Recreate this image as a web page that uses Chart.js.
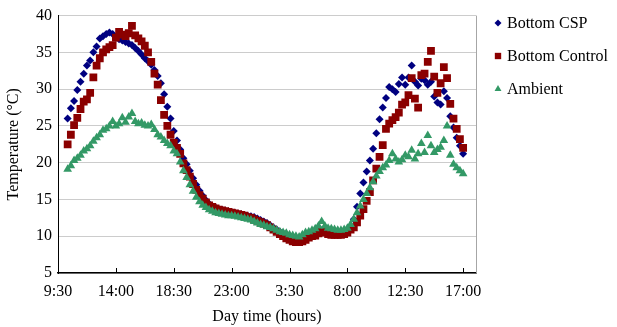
<!DOCTYPE html>
<html>
<head>
<meta charset="utf-8">
<script src="https://cdn.jsdelivr.net/npm/chart.js@4/dist/chart.umd.min.js"></script>
<style>
  body { margin: 0; background: #fff; }
  #wrap { width: 617px; height: 327px; }
</style>
</head>
<body>
<div id="wrap"><canvas id="chart" width="617" height="327"></canvas></div>
<script>
// ============================================
// Data (hours counted from 9:30 on day one)
// ============================================
const hours = [0.75,
    1, 1.25, 1.5, 1.75, 2, 2.25, 2.5, 2.75,
    3, 3.25, 3.5, 3.75, 4, 4.25, 4.5, 4.75,
    5, 5.25, 5.5, 5.75, 6, 6.25, 6.5, 6.75,
    7, 7.25, 7.5, 7.75, 8, 8.25, 8.5, 8.75,
    9, 9.25, 9.5, 9.75, 10, 10.25, 10.5, 10.75,
    11, 11.25, 11.5, 11.75, 12, 12.25, 12.5, 12.75,
    13, 13.25, 13.5, 13.75, 14, 14.25, 14.5, 14.75,
    15, 15.25, 15.5, 15.75, 16, 16.25, 16.5, 16.75,
    17, 17.25, 17.5, 17.75, 18, 18.25, 18.5, 18.75,
    19, 19.25, 19.5, 19.75, 20, 20.25, 20.5, 20.75,
    21, 21.25, 21.5, 21.75, 22, 22.25, 22.5, 22.75,
    23, 23.25, 23.5, 23.75, 24, 24.25, 24.5, 24.75,
    25, 25.25, 25.5, 25.75, 26, 26.25, 26.5, 26.75,
    27, 27.25, 27.5, 27.75, 28, 28.25, 28.5, 28.75,
    29, 29.25, 29.5, 29.75, 30, 30.25, 30.5, 30.75,
    31, 31.25, 31.5];

const bottomCSP = [26.0,
    27.4, 28.4, 29.9, 31.0, 32.1, 33.2, 33.9, 35.0,
    35.8, 36.9, 37.2, 37.5, 37.7, 37.5, 37.0, 36.8,
    36.6, 36.4, 36.2, 36.0, 35.6, 35.2, 34.7, 34.2,
    33.8, 33.3, 32.6, 31.8, 30.8, 29.3, 27.6, 26.0,
    24.3, 23.0, 21.8, 20.6, 19.8, 18.9, 17.9, 17.0,
    16.2, 15.5, 14.9, 14.4, 14.1, 13.9, 13.7, 13.6,
    13.5, 13.4, 13.3, 13.2, 13.1, 13.0, 12.9, 12.8,
    12.7, 12.6, 12.4, 12.2, 12.0, 11.8, 11.5, 11.2,
    10.9, 10.6, 10.4, 10.2, 10.0, 9.8, 9.7, 9.7,
    9.8, 10.0, 10.2, 10.4, 10.5, 10.6, 10.8, 10.7,
    10.6, 10.6, 10.5, 10.5, 10.5, 10.5, 10.6, 11.0,
    12.3, 14.0, 15.8, 17.3, 18.8, 20.3, 21.9, 24.0,
    25.9, 27.5, 28.8, 30.3, 30.0, 29.6, 30.7, 31.6,
    30.6, 31.6, 33.2, 31.0, 30.5, 31.4, 31.2, 30.6,
    31.0, 29.0, 28.2, 27.9, 29.7, 28.8, 26.3, 24.8,
    23.4, 22.3, 21.2];

const bottomControl = [22.5,
    23.8, 25.1, 26.1, 27.3, 28.3, 28.6, 29.5, 31.6,
    33.2, 34.2, 35.0, 35.4, 35.7, 36.0, 37.0, 37.8,
    37.4, 37.2, 37.6, 38.6, 37.3, 36.9, 36.5, 35.9,
    35.0, 33.7, 32.1, 30.6, 28.5, 26.5, 25.0, 23.8,
    22.7, 22.0, 21.2, 19.9, 19.0, 18.1, 17.1, 16.3,
    15.6, 15.1, 14.6, 14.2, 14.0, 13.8, 13.6, 13.5,
    13.4, 13.3, 13.2, 13.1, 13.0, 12.9, 12.8, 12.6,
    12.5, 12.3, 12.1, 11.9, 11.7, 11.5, 11.2, 10.9,
    10.6, 10.3, 10.0, 9.7, 9.5, 9.3, 9.2, 9.2,
    9.3, 9.5, 9.8, 10.0, 10.1, 10.4, 10.6, 10.5,
    10.3, 10.2, 10.2, 10.2, 10.2, 10.3, 10.5, 10.9,
    11.2, 11.9, 12.8, 13.7, 14.8, 16.0, 17.6, 19.2,
    20.8, 22.4, 24.6, 25.3, 25.8, 26.2, 26.8, 27.9,
    28.2, 29.2, 31.5, 28.7, 27.5, 31.9, 32.1, 33.7,
    35.2, 31.7, 29.5, 30.8, 33.0, 31.5, 28.0, 26.0,
    24.6, 23.2, 22.0];

const ambient = [19.1,
    19.6, 20.3, 20.6, 21.0, 21.6, 21.9, 22.3, 22.9,
    23.4, 23.8, 24.4, 24.6, 25.0, 25.6, 25.0, 25.3,
    26.1, 25.5, 26.2, 26.7, 25.6, 25.3, 25.4, 25.1,
    25.0, 25.2, 24.5, 23.8, 23.5, 23.0, 22.6, 22.3,
    21.6, 21.2, 20.1, 18.9, 18.0, 17.0, 16.1, 15.3,
    14.7, 14.2, 13.9, 13.6, 13.4, 13.2, 13.1, 13.0,
    12.9, 12.8, 12.8, 12.7, 12.6, 12.5, 12.4, 12.3,
    12.2, 12.0, 11.8, 11.6, 11.5, 11.3, 11.2, 11.0,
    10.8, 10.6, 10.5, 10.4, 10.2, 10.1, 10.0, 9.9,
    10.2, 10.5, 10.6, 10.8, 11.0, 11.4, 12.0, 11.4,
    11.1, 11.0, 10.9, 10.8, 10.8, 10.9, 11.1, 11.6,
    12.3, 13.2, 14.1, 15.0, 15.8, 16.6, 17.4, 18.2,
    18.8, 19.3, 19.7, 20.3, 21.2, 20.5, 20.1, 20.4,
    21.0, 20.8, 21.7, 20.5, 21.2, 22.6, 21.4, 23.7,
    22.3, 21.4, 21.8, 22.1, 23.0, 25.0, 21.0, 19.8,
    19.3, 18.9, 18.5];

const tickHours = [0, 4.5, 9, 13.5, 18, 22.5, 27, 31.5];
const tickLabels = ['9:30', '14:00', '18:30', '23:00', '3:30', '8:00', '12:30', '17:00'];

const FONT = "'Liberation Serif', 'Times New Roman', serif";
Chart.defaults.font.family = FONT;
Chart.defaults.font.size = 16;
Chart.defaults.color = '#000';

function toPoints(values) {
    return values.map((v, i) => ({ x: hours[i], y: v }));
}

// ============================================
// Plot frame: inward x ticks and grey right border
// ============================================
const framePlugin = {
    id: 'frame',
    afterDraw(chart) {
        const { ctx, chartArea: a, scales } = chart;
        ctx.save();
        ctx.strokeStyle = '#a6a6a6';
        ctx.lineWidth = 1;
        ctx.beginPath();
        ctx.moveTo(Math.round(a.right) + 0.5, a.top);
        ctx.lineTo(Math.round(a.right) + 0.5, a.bottom);
        ctx.stroke();

        ctx.strokeStyle = '#000';
        ctx.beginPath();
        tickHours.forEach(h => {
            const px = Math.round(scales.x.getPixelForValue(h)) + 0.5;
            ctx.moveTo(px, a.bottom);
            ctx.lineTo(px, a.bottom - 5);
        });
        ctx.stroke();
        ctx.restore();
    }
};

// ============================================
// Legend at the top right, beside the plot
// ============================================
const sideLegend = {
    id: 'sideLegend',
    afterDraw(chart) {
        const ctx = chart.ctx;
        const x = chart.chartArea.right + 22;
        ctx.save();
        ctx.font = '16px ' + FONT;
        ctx.textBaseline = 'middle';
        chart.data.datasets.forEach((ds, i) => {
            const y = 23 + i * 33;
            ctx.fillStyle = ds.backgroundColor;
            Chart.helpers.drawPoint(ctx, {
                pointStyle: ds.pointStyle, radius: ds.legendRadius, rotation: 0, borderWidth: 0
            }, x, y);
            ctx.fillStyle = '#000';
            ctx.fillText(ds.label, x + 9, y + 1);
        });
        ctx.restore();
    }
};

new Chart(document.getElementById('chart'), {
    type: 'scatter',
    data: {
        datasets: [
            {
                label: 'Bottom CSP',
                data: toPoints(bottomCSP),
                pointStyle: 'rectRot',
                pointRadius: 4,
                legendRadius: 3.5,
                backgroundColor: '#000080',
                borderWidth: 0,
                order: 3
            },
            {
                label: 'Bottom Control',
                data: toPoints(bottomControl),
                pointStyle: 'rect',
                pointRadius: 5.5,
                legendRadius: 4.5,
                backgroundColor: '#8b0000',
                borderWidth: 0,
                order: 2
            },
            {
                label: 'Ambient',
                data: toPoints(ambient),
                pointStyle: 'triangle',
                pointRadius: 5,
                legendRadius: 4,
                backgroundColor: '#339966',
                borderWidth: 0,
                order: 1
            }
        ]
    },
    options: {
        responsive: false,
        animation: false,
        layout: { padding: { top: 11, right: 141, left: 0, bottom: 0 } },
        plugins: {
            legend: { display: false },
            tooltip: { enabled: false }
        },
        scales: {
            x: {
                type: 'linear',
                min: 0,
                max: 32.5,
                afterBuildTicks: s => { s.ticks = tickHours.map(v => ({ value: v })); },
                afterFit: s => { s.height = 54; },
                ticks: {
                    callback: (v, i) => tickLabels[i],
                    padding: 9,
                    maxRotation: 0,
                    autoSkip: false
                },
                grid: { drawOnChartArea: false, drawTicks: false },
                border: { color: '#000', width: 1.5 },
                title: { display: true, text: 'Day time (hours)', padding: { top: 0, bottom: 1 } }
            },
            y: {
                min: 5,
                max: 40,
                afterFit: s => { s.width = 58; },
                ticks: { stepSize: 5, padding: 6 },
                grid: { color: '#cccccc', drawTicks: false },
                border: { color: '#000', width: 1 },
                title: { display: true, text: 'Temperature (°C)', padding: { top: 4, bottom: 0 } }
            }
        }
    },
    plugins: [framePlugin, sideLegend]
});
</script>
</body>
</html>
